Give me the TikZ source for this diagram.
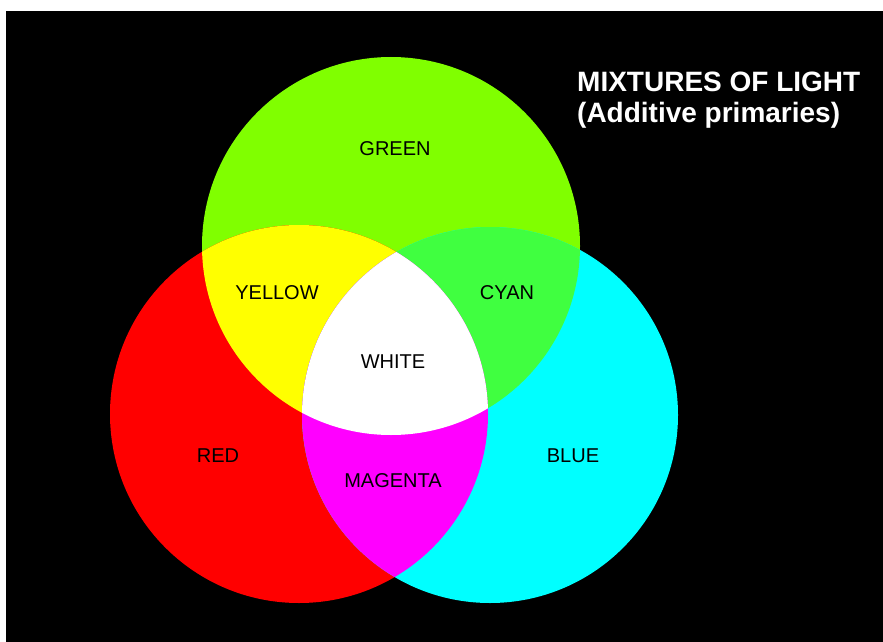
\documentclass[tikz,border=0pt]{standalone}
\usepackage{fontspec}
\setmainfont{Liberation Sans}
\definecolor{cgreen}{HTML}{80FF00}
\definecolor{cyellow}{HTML}{FFFF00}
\definecolor{cred}{HTML}{FF0000}
\definecolor{cblue}{HTML}{00FFFF}
\definecolor{ccyan}{HTML}{40FF40}
\definecolor{cmagenta}{HTML}{FF00FF}
\begin{document}
\begin{tikzpicture}[x=1pt,y=-1pt,
  lab/.style={font=\fontsize{20}{22}\selectfont, text=black, inner sep=0pt},
  ttl/.style={font=\fontsize{28}{31}\selectfont\bfseries, text=white, inner sep=0pt, anchor=west}]
\useasboundingbox (0,0) rectangle (883,642);
\fill[white] (0,0) rectangle (883,642);
\fill[black] (6,11) rectangle (883,642);
\def\gC{(391,246) circle[radius=189]}
\def\rC{(299,414) circle[radius=189]}
\def\bC{(490,415) circle[radius=188]}
\fill[cgreen] \gC;
\fill[cred] \rC;
\fill[cblue] \bC;
\begin{scope}\clip \rC; \fill[cyellow] \gC; \end{scope}
\begin{scope}\clip \gC; \fill[ccyan] \bC; \end{scope}
\begin{scope}\clip \rC; \fill[cmagenta] \bC; \end{scope}
\begin{scope}\clip \rC; \clip \gC; \fill[white] \bC; \end{scope}
\node[lab] (green) at (395,149) {GREEN};
\node[lab] (yellow) at (277,293) {YELLOW};
\node[lab] (cyan) at (507,293) {CYAN};
\node[lab] (white) at (393,362) {WHITE};
\node[lab] (red) at (218,456) {RED};
\node[lab] (magenta) at (393,481) {MAGENTA};
\node[lab] (blue) at (573,456) {BLUE};
\node[ttl] (t1) at (577,82) {MIXTURES OF LIGHT};
\node[ttl] (t2) at (577,115) {(Additive primaries)};
\end{tikzpicture}
\end{document}
